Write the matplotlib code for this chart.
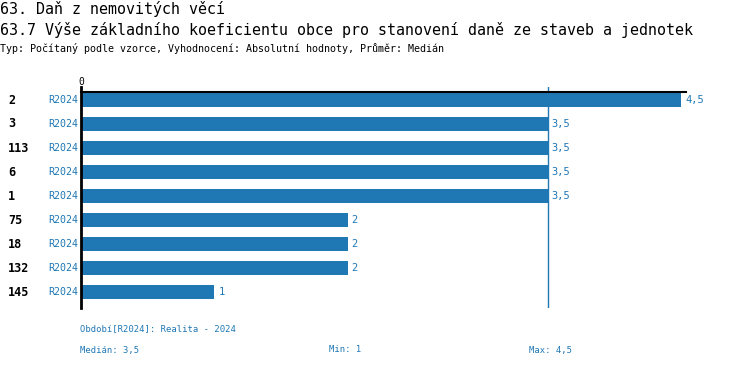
import numpy as np
import matplotlib
matplotlib.use('Agg')
import matplotlib.pyplot as plt

# data
categories = ['2', '3', '113', '6', '1', '75', '18', '132', '145']
periods = ['R2024'] * 9
values = [4.5, 3.5, 3.5, 3.5, 3.5, 2, 2, 2, 1]
median_val = 3.5
min_val = 1
max_val = 4.5

blue = '#1f77b4'
mono = 'DejaVu Sans Mono'
W, H = 750, 368

def fmt(v):
    return ('%g' % v).replace('.', ',')

fig = plt.figure(figsize=(W/100, H/100), dpi=100)

# axes: x 81..686 px, y 87..308 px
ax = fig.add_axes([81/W, 1-308/H, 605/W, 221/H])
y = np.arange(len(values))
ax.barh(y, values, height=0.62, color=blue, zorder=2)
ax.set_xlim(0, 4.5*605/600)
ax.set_ylim(8.667, -0.542)
for s in ['top', 'right', 'bottom']:
    ax.spines[s].set_visible(False)
ax.spines['left'].set_linewidth(2)
ax.set_xticks([])
ax.set_yticks([])
ax.axvline(median_val, color=blue, lw=1, zorder=1)
ax.plot([0, 1], [-0.333, -0.333], color='black', lw=1.5,
        transform=ax.get_yaxis_transform(), clip_on=False, zorder=3)
ax.text(0, -0.542, '0', ha='center', va='bottom', fontsize=7, family=mono)

for i, v in enumerate(values):
    ax.text(v + 0.03, i, fmt(v), va='center', ha='left', color=blue,
            fontsize=7.5, family=mono)

# row labels
for i, (c, p) in enumerate(zip(categories, periods)):
    yy = 1 - (100 + 24*i)/H
    fig.text(8/W, yy, c, fontsize=8.5, fontweight='bold', family=mono,
             va='center', ha='left')
    fig.text(78/W, yy, p, fontsize=7.2, family=mono, color=blue,
             va='center', ha='right')

# header
fig.text(0, 1-9/H, '63. Daň z nemovitých věcí', fontsize=10.8, family=mono, va='center')
fig.text(0, 1-30/H, '63.7 Výše základního koeficientu obce pro stanovení daně ze staveb a jednotek',
         fontsize=10.8, family=mono, va='center')
fig.text(0, 1-49/H, 'Typ: Počítaný podle vzorce, Vyhodnocení: Absolutní hodnoty, Průměr: Medián',
         fontsize=7.2, family=mono, va='center')

# footer
fig.text(80/W, 1-329/H, 'Období[R2024]: Realita - 2024', fontsize=6.4, family=mono,
         color=blue, va='center')
fig.text(80/W, 1-350/H, 'Medián: ' + fmt(median_val), fontsize=6.4,
         family=mono, color=blue, va='center')
fig.text(329/W, 1-350/H, 'Min: ' + fmt(min_val), fontsize=6.4, family=mono,
         color=blue, va='center')
fig.text(529/W, 1-350/H, 'Max: ' + fmt(max_val), fontsize=6.4, family=mono,
         color=blue, va='center')

plt.savefig('out.png', dpi=100)
